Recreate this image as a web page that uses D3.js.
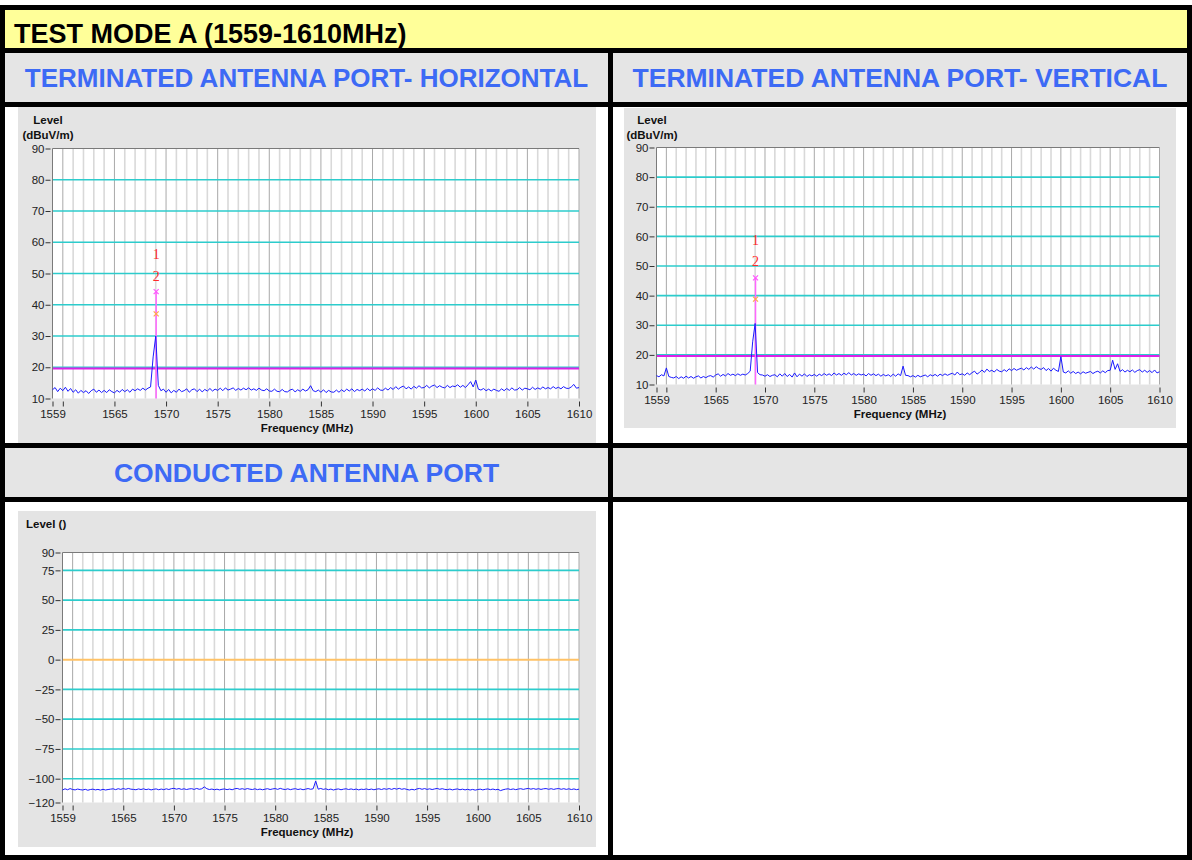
<!DOCTYPE html>
<html>
<head>
<meta charset="utf-8">
<script src="https://cdn.jsdelivr.net/npm/d3@7"></script>
<style>
  html, body { margin: 0; padding: 0; background: #ffffff; }
  svg { display: block; font-family: "Liberation Sans", Arial, sans-serif; }
</style>
</head>
<body>
<svg id="page" width="1192" height="860"></svg>
<script>
// ---- Sweep: 1559 MHz to 1610 MHz, one reading every 0.25 MHz ----
const sweepStart = 1559;
const sweepStep = 0.25;

// Terminated antenna port, horizontal polarisation (dBuV/m)
const levelHorizontal = [
  12.8, 13.5, 12.2, 13.3, 12.5, 13.6, 12.3, 13.2, 12.0, 12.8, 11.7, 12.6, 11.9, 12.5, 11.6, 12.5, 13.0, 12.0, 12.7, 11.9,
  12.6, 11.9, 12.8, 12.2, 11.8, 12.6, 12.0, 12.9, 12.2, 12.8, 12.0, 13.0, 12.5, 13.1, 12.6, 13.3, 12.7, 13.3, 13.7, 23.3,
  30.0, 14.2, 12.5, 13.0, 12.0, 12.9, 11.8, 12.6, 12.0, 13.0, 12.2, 12.5, 13.1, 12.0, 12.8, 13.1, 12.2, 13.0, 12.1, 12.9,
  12.4, 13.2, 12.4, 13.0, 12.6, 13.3, 12.5, 13.4, 12.7, 13.0, 13.4, 12.6, 13.2, 12.7, 13.3, 12.8, 13.4, 12.7, 13.1, 12.6,
  13.3, 12.7, 12.5, 13.1, 12.4, 12.3, 13.0, 12.3, 12.2, 12.9, 12.2, 12.1, 12.7, 13.0, 12.1, 12.8, 12.3, 13.0, 12.4, 12.8,
  14.1, 12.5, 12.2, 12.7, 12.0, 12.8, 11.9, 12.6, 12.1, 12.0, 12.7, 12.0, 12.8, 12.2, 13.0, 12.4, 13.1, 12.2, 12.9, 12.5,
  13.0, 12.4, 13.2, 12.5, 13.1, 12.6, 13.4, 12.7, 12.6, 13.3, 12.7, 13.5, 12.9, 13.8, 13.0, 13.6, 14.0, 13.1, 13.7, 13.0,
  13.9, 13.3, 14.1, 13.4, 13.5, 14.2, 13.4, 14.0, 14.3, 13.5, 14.1, 13.6, 13.4, 14.2, 13.5, 14.0, 13.8, 14.4, 13.6, 14.2,
  13.5, 14.4, 15.4, 13.7, 15.9, 13.0, 12.7, 13.2, 12.5, 13.0, 12.4, 13.0, 12.6, 12.3, 13.1, 12.5, 13.2, 12.6, 13.4, 12.7,
  12.8, 13.5, 12.7, 13.3, 13.1, 12.8, 13.6, 12.9, 13.4, 13.0, 13.7, 13.1, 13.5, 13.1, 13.8, 13.2, 13.6, 13.1, 13.8, 13.3,
  13.2, 13.7, 14.5, 13.3, 13.5
];

// Terminated antenna port, vertical polarisation (dBuV/m)
const levelVertical = [
  13.0, 12.6, 13.3, 12.9, 15.6, 12.7, 12.4, 12.2, 12.7, 12.0, 12.6, 12.1, 12.8, 12.2, 12.7, 12.1, 12.6, 12.9, 12.2, 12.7,
  12.3, 12.8, 13.0, 12.5, 13.2, 13.6, 12.8, 13.4, 12.9, 13.7, 13.1, 13.5, 13.0, 13.6, 13.1, 13.5, 13.2, 13.7, 14.5, 24.4,
  30.6, 14.0, 13.3, 13.2, 12.8, 13.3, 12.7, 13.1, 13.3, 12.6, 13.6, 12.8, 13.7, 12.7, 13.4, 12.5, 13.9, 12.6, 13.5, 12.8,
  13.6, 12.7, 13.3, 12.9, 13.4, 12.8, 13.5, 13.0, 13.7, 13.1, 13.6, 13.0, 13.9, 13.2, 13.7, 13.1, 13.8, 13.3, 14.0, 13.2,
  13.7, 13.1, 13.6, 13.2, 13.5, 12.9, 13.7, 13.1, 13.6, 13.0, 13.5, 12.8, 13.4, 12.9, 13.3, 12.7, 13.5, 12.8, 13.6, 13.0,
  16.2, 13.1, 13.0, 12.6, 13.0, 12.5, 13.1, 12.6, 12.9, 13.2, 12.6, 13.3, 12.9, 13.4, 12.8, 13.5, 13.0, 13.6, 13.1, 13.5,
  13.8, 13.2, 14.2, 13.3, 13.6, 13.1, 13.9, 13.3, 14.0, 14.5, 13.5, 14.1, 14.9, 14.1, 15.2, 14.4, 14.8, 14.2, 15.1, 14.5,
  14.3, 15.0, 14.4, 15.3, 14.7, 15.4, 14.8, 15.2, 15.5, 14.9, 15.7, 15.1, 15.9, 15.2, 16.0, 15.4, 15.1, 15.7, 14.7, 15.4,
  14.5, 15.5, 14.8, 14.4, 19.4, 14.2, 13.9, 14.6, 13.8, 14.4, 13.7, 14.2, 13.6, 14.3, 13.8, 14.1, 14.4, 13.7, 14.2, 14.5,
  13.9, 14.6, 14.0, 14.7, 14.8, 18.2, 15.1, 17.0, 14.4, 15.0, 14.2, 14.8, 14.3, 14.9, 14.1, 14.7, 15.0, 14.2, 14.8, 14.1,
  14.7, 14.0, 14.9, 13.9, 14.3
];

// Conducted antenna port (level, no unit given)
const levelConducted = [
  -109.5, -108.5, -109.3, -108.3, -109.1, -109.4, -108.7, -109.2, -109.5, -108.9, -109.7, -109.1, -108.8, -109.4, -109.0, -109.6, -108.9, -109.5, -109.1, -108.8,
  -108.5, -109.2, -108.4, -109.0, -108.3, -108.9, -108.2, -108.8, -109.0, -109.3, -108.6, -109.1, -108.5, -109.2, -108.7, -109.4, -108.9, -108.6, -109.3, -108.7,
  -109.2, -108.5, -109.1, -108.4, -108.1, -108.8, -108.3, -109.0, -108.5, -109.1, -108.6, -108.4, -109.0, -108.2, -108.9, -108.5, -106.9, -108.4, -109.1, -108.7,
  -109.3, -108.8, -109.4, -108.9, -108.6, -109.2, -108.7, -109.3, -108.5, -108.2, -108.9, -108.4, -109.0, -108.3, -108.8, -109.1, -108.5, -109.2, -108.7, -109.3,
  -108.8, -108.4, -109.1, -108.6, -108.3, -109.0, -108.1, -108.8, -109.1, -108.5, -109.2, -108.7, -108.4, -109.1, -108.6, -109.3, -108.8, -108.3, -108.9, -108.5,
  -102.0, -108.8, -108.2, -109.0, -108.5, -109.3, -108.7, -109.5, -108.9, -108.6, -109.3, -108.8, -108.5, -109.1, -108.6, -109.2, -108.7, -109.4, -108.8, -109.1,
  -108.6, -109.2, -108.7, -109.3, -108.8, -108.5, -109.1, -108.4, -108.9, -108.3, -109.0, -108.2, -108.8, -108.1, -108.9, -108.4, -109.0, -109.5, -108.9, -109.4,
  -108.6, -108.2, -108.9, -108.3, -109.0, -108.5, -109.1, -108.6, -108.2, -108.9, -108.4, -109.0, -109.2, -108.7, -109.4, -108.9, -108.6, -109.3, -108.8, -109.4,
  -108.9, -109.5, -109.0, -109.6, -109.1, -108.8, -109.4, -108.9, -108.6, -109.2, -108.7, -109.3, -108.9, -110.0, -109.3, -108.8, -108.5, -109.1, -108.6, -109.2,
  -108.7, -108.4, -109.0, -108.5, -108.2, -108.8, -108.3, -108.9, -108.4, -109.0, -108.5, -108.3, -108.9, -108.4, -109.0, -108.5, -108.3, -108.9, -108.4, -109.0,
  -108.5, -109.1, -108.6, -109.2, -108.8
];

// Axis ticks
const freqDomain = [1559, 1610];
const freqTicks = [1559, 1560, 1565, 1570, 1575, 1580, 1585, 1590, 1595, 1600, 1605, 1610];
const freqTickLabels = [1559, 1565, 1570, 1575, 1580, 1585, 1590, 1595, 1600, 1605, 1610];
const radiatedLevelTicks = [90, 80, 70, 60, 50, 40, 30, 20, 10];
const conductedLevelTicks = [90, 75, 50, 25, 0, -25, -50, -75, -100, -120];

// Limit line and marker readings
const radiatedLimit = 19.6;
const markerIds = ["1", "2"];
const markerFreqHorizontal = 1569.04;
const markerLevelsHorizontal = [44.2, 37.1];
const markerFreqVertical = 1569.04;
const markerLevelsVertical = [46.0, 38.8];

// Text
const pageTitle = "TEST MODE A (1559-1610MHz)";
const sectionTitles = ["TERMINATED ANTENNA PORT- HORIZONTAL", "TERMINATED ANTENNA PORT- VERTICAL", "CONDUCTED ANTENNA PORT"];

// ---------------------------------------------------------------
const svg = d3.select("#page");
const FONT = '"Liberation Sans", Arial, sans-serif';

// Report table: black frame with coloured cells laid over it
svg.append("rect").attr("x", 0).attr("y", 5).attr("width", 1192).attr("height", 855).attr("fill", "#000");
const cells = [
  { x: 5, y: 10, w: 1182, h: 38, fill: "#ffff99" },
  { x: 5, y: 53, w: 603, h: 49, fill: "#e5e5e5" },
  { x: 613, y: 53, w: 574, h: 49, fill: "#e5e5e5" },
  { x: 5, y: 107, w: 603, h: 336, fill: "#ffffff" },
  { x: 613, y: 107, w: 574, h: 336, fill: "#ffffff" },
  { x: 5, y: 448, w: 603, h: 49, fill: "#e5e5e5" },
  { x: 613, y: 448, w: 574, h: 49, fill: "#e5e5e5" },
  { x: 5, y: 502, w: 603, h: 353, fill: "#ffffff" },
  { x: 613, y: 502, w: 574, h: 353, fill: "#ffffff" }
];
svg.selectAll("rect.cell").data(cells).enter().append("rect")
  .attr("class", "cell")
  .attr("x", d => d.x).attr("y", d => d.y).attr("width", d => d.w).attr("height", d => d.h)
  .attr("fill", d => d.fill);

svg.append("text").attr("x", 14).attr("y", 42.5)
  .attr("font-family", FONT).attr("font-weight", "bold").attr("font-size", 27)
  .attr("fill", "#000").text(pageTitle);

const headerPos = [{ x: 306.5, y: 87 }, { x: 900, y: 87 }, { x: 306.5, y: 482 }];
sectionTitles.forEach((t, i) => {
  svg.append("text").attr("x", headerPos[i].x).attr("y", headerPos[i].y)
    .attr("text-anchor", "middle")
    .attr("font-family", FONT).attr("font-weight", "bold").attr("font-size", i === 0 ? 26 : 26.5)
    .attr("fill", "#3d6af5").text(t);
});

// ---------------------------------------------------------------
// One spectrum plot inside its grey panel
function drawSpectrum(cfg) {
  const g = svg.append("g");
  const x = d3.scaleLinear().domain(freqDomain).range([cfg.left, cfg.right]);
  const y = d3.scaleLinear().domain(cfg.yDomain).range([cfg.bottom, cfg.top]);

  g.append("rect").attr("x", cfg.panel[0]).attr("y", cfg.panel[1])
    .attr("width", cfg.panel[2] - cfg.panel[0]).attr("height", cfg.panel[3] - cfg.panel[1])
    .attr("fill", "#e4e4e4");
  g.append("rect").attr("x", cfg.left).attr("y", cfg.top)
    .attr("width", cfg.right - cfg.left).attr("height", cfg.bottom - cfg.top)
    .attr("fill", "#ffffff");

  // vertical grid: every MHz light, every 5 MHz darker
  const oneMHz = d3.range(freqDomain[0] + 1, freqDomain[1] + 1, 1);
  g.selectAll("line.minor").data(oneMHz.filter(f => f % 5 !== 0)).enter().append("line")
    .attr("x1", d => x(d)).attr("x2", d => x(d)).attr("y1", cfg.top).attr("y2", cfg.bottom)
    .attr("stroke", "#d9d9d9").attr("stroke-width", 1.6);
  g.selectAll("line.major").data(oneMHz.filter(f => f % 5 === 0)).enter().append("line")
    .attr("x1", d => x(d)).attr("x2", d => x(d)).attr("y1", cfg.top).attr("y2", cfg.bottom)
    .attr("stroke", "#a9a9a9").attr("stroke-width", 1);

  // horizontal grid at the inner level ticks
  const inner = cfg.yTicks.filter(v => v !== cfg.yDomain[0] && v !== cfg.yDomain[1]);
  g.selectAll("line.hgrid").data(inner).enter().append("line")
    .attr("x1", cfg.left).attr("x2", cfg.right)
    .attr("y1", d => y(d)).attr("y2", d => y(d))
    .attr("stroke", d => (cfg.zeroLine && d === 0) ? "#ffc266" : "#2ccccc")
    .attr("stroke-width", d => (cfg.zeroLine && d === 0) ? 2 : 1.6);

  // limit line
  if (cfg.limit !== undefined) {
    g.append("line").attr("x1", cfg.left).attr("x2", cfg.right)
      .attr("y1", y(cfg.limit)).attr("y2", y(cfg.limit))
      .attr("stroke", "#dd22e6").attr("stroke-width", 2);
  }

  // frame (top and left)
  g.append("path")
    .attr("d", `M${cfg.left},${cfg.bottom}V${cfg.top}H${cfg.right}`)
    .attr("fill", "none").attr("stroke", "#7a7a7a").attr("stroke-width", 1);

  // marker line from the peak reading down to the floor
  if (cfg.markerLevels) {
    const mx = x(cfg.markerFreq);
    g.append("line").attr("x1", mx).attr("x2", mx)
      .attr("y1", y(d3.max(cfg.markerLevels))).attr("y2", cfg.bottom)
      .attr("stroke", "#ff66ff").attr("stroke-width", 1.5);
  }

  // measured trace
  const line = d3.line()
    .x((d, i) => x(sweepStart + i * sweepStep))
    .y(d => y(d));
  g.append("path").datum(cfg.values).attr("d", line)
    .attr("fill", "none").attr("stroke", "#1a1aff").attr("stroke-width", 1)
    .attr("stroke-linejoin", "round");

  // markers: cross at the reading, number above it
  if (cfg.markerLevels) {
    const mx = x(cfg.markerFreq);
    const crossColors = ["#ff55ff", "#ffa64d"];
    cfg.markerLevels.forEach((v, i) => {
      const my = y(v);
      g.append("path")
        .attr("d", `M${mx - 2.5},${my - 2.5}L${mx + 2.5},${my + 2.5}M${mx - 2.5},${my + 2.5}L${mx + 2.5},${my - 2.5}`)
        .attr("stroke", crossColors[i]).attr("stroke-width", 1.2).attr("fill", "none");
      g.append("text").attr("x", mx).attr("y", my - 33)
        .attr("text-anchor", "middle")
        .attr("font-family", '"Liberation Serif", "Times New Roman", serif')
        .attr("font-size", 14).attr("fill", "#ff2a2a")
        .text(markerIds[i]);
    });
  }

  // level axis
  const yAxis = d3.axisLeft(y).tickValues(cfg.yTicks).tickSizeInner(5).tickSizeOuter(0).tickPadding(1);
  const ya = g.append("g").attr("transform", `translate(${cfg.left - 2},0)`).call(yAxis);
  ya.select(".domain").remove();
  ya.selectAll("line").attr("stroke", "#333");
  ya.selectAll("text").attr("font-family", FONT).attr("font-size", 11.5).attr("fill", "#222");

  // frequency axis
  const xAxis = d3.axisBottom(x).tickValues(freqTicks)
    .tickFormat(d => freqTickLabels.includes(d) ? String(d) : "")
    .tickSizeInner(5).tickSizeOuter(0).tickPadding(3.5);
  const xa = g.append("g").attr("transform", `translate(0,${cfg.bottom + 3})`).call(xAxis);
  xa.select(".domain").remove();
  xa.selectAll("line").attr("stroke", "#333");
  xa.selectAll("text").attr("font-family", FONT).attr("font-size", 11.5).attr("fill", "#222");

  // axis titles
  const panelMid = (cfg.panel[0] + cfg.panel[2]) / 2;
  g.append("text").attr("x", panelMid).attr("y", cfg.bottom + 33.5)
    .attr("text-anchor", "middle").attr("font-family", FONT).attr("font-weight", "bold")
    .attr("font-size", 11.5).attr("fill", "#111").text("Frequency (MHz)");

  cfg.levelTitle.forEach((t, i) => {
    const lt = g.append("text").attr("font-family", FONT).attr("font-weight", "bold")
      .attr("font-size", 11.5).attr("fill", "#111").text(t);
    if (cfg.levelTitleAnchor === "start") {
      lt.attr("x", cfg.panel[0] + 8).attr("y", cfg.levelTitleY + i * 15);
    } else {
      lt.attr("x", cfg.left - 4.5).attr("y", cfg.levelTitleY + i * 15).attr("text-anchor", "middle");
    }
  });
}

drawSpectrum({
  panel: [18, 107, 596, 443],
  left: 52.5, right: 579, top: 148.5, bottom: 398.5,
  yDomain: [10, 90], yTicks: radiatedLevelTicks,
  values: levelHorizontal, limit: radiatedLimit,
  markerFreq: markerFreqHorizontal, markerLevels: markerLevelsHorizontal,
  levelTitle: ["Level", "(dBuV/m)"], levelTitleY: 124
});

drawSpectrum({
  panel: [624, 108, 1176, 428],
  left: 656.5, right: 1159.5, top: 147.5, bottom: 384.5,
  yDomain: [10, 90], yTicks: radiatedLevelTicks,
  values: levelVertical, limit: radiatedLimit,
  markerFreq: markerFreqVertical, markerLevels: markerLevelsVertical,
  levelTitle: ["Level", "(dBuV/m)"], levelTitleY: 123.5
});

drawSpectrum({
  panel: [18, 511, 596, 847],
  left: 62.5, right: 579, top: 552.5, bottom: 802.5,
  yDomain: [-120, 90], yTicks: conductedLevelTicks, zeroLine: true,
  values: levelConducted,
  levelTitle: ["Level ()"], levelTitleAnchor: "start", levelTitleY: 528
});
</script>
</body>
</html>
